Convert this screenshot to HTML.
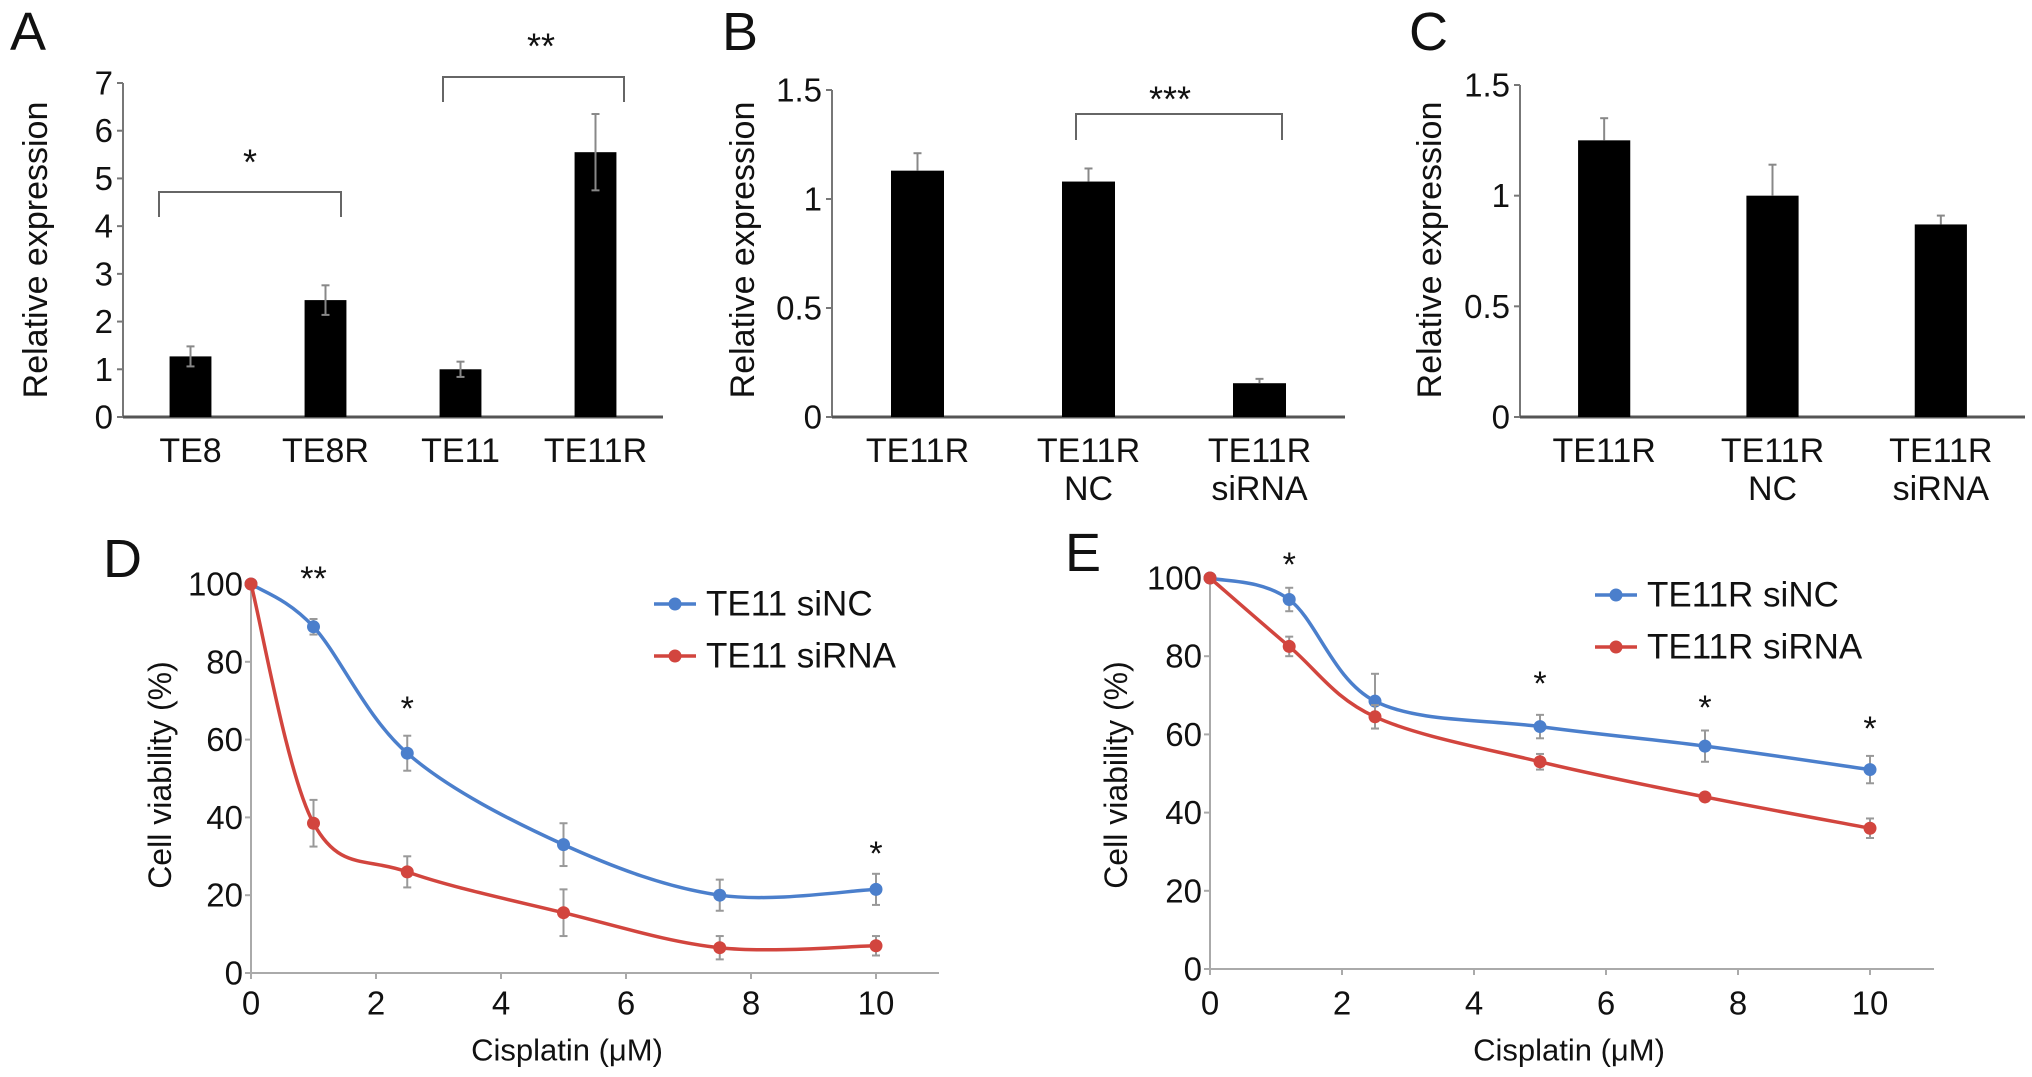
<!DOCTYPE html>
<html><head><meta charset="utf-8"><style>
html,body{margin:0;padding:0;background:#fff;}
svg{display:block;font-family:"Liberation Sans",Arial,sans-serif;}
</style></head><body>
<svg id="fig" width="2032" height="1077" viewBox="0 0 2032 1077" xmlns="http://www.w3.org/2000/svg"></svg>
<script>
// Panel A data
const aCats = ["TE8","TE8R","TE11","TE11R"];
const aVals = [1.27,2.45,1.0,5.55];
const aErrs = [0.21,0.31,0.16,0.8];
const aTicks = [0,1,2,3,4,5,6,7];
// Panel B data
const bCats = [["TE11R"],["TE11R","NC"],["TE11R","siRNA"]];
const bVals = [1.13,1.08,0.155];
const bErrs = [0.08,0.06,0.02];
const bTicks = [0,0.5,1,1.5];
// Panel C data
const cCats = [["TE11R"],["TE11R","NC"],["TE11R","siRNA"]];
const cVals = [1.25,1.0,0.87];
const cErrs = [0.1,0.14,0.04];
const cTicks = [0,0.5,1,1.5];
// Panel D data
const dX = [0,1,2.5,5,7.5,10];
const dNC = [100,89,56.5,33,20,21.5];
const dNCerr = [0,2,4.5,5.5,4,4];
const dSi = [100,38.5,26,15.5,6.5,7];
const dSiErr = [0,6,4,6,3,2.5];
const dStars = [[1,"**",579],[2.5,"*",709],[10,"*",854]];
// Panel E data
const eX = [0,1.2,2.5,5,7.5,10];
const eNC = [100,94.5,68.5,62,57,51];
const eNCerr = [0,3,7,3,4,3.5];
const eSi = [100,82.5,64.5,53,44,36];
const eSiErr = [0,2.5,3,2,1,2.5];
const eStars = [[1.2,"*",565],[5,"*",684],[7.5,"*",708],[10,"*",729]];
const xTicks = [0,2,4,6,8,10];
const yTicksL = [0,20,40,60,80,100];

const svg = document.getElementById('fig');
const NS = "http://www.w3.org/2000/svg";
function el(tag, attrs, parent){
  const e = document.createElementNS(NS, tag);
  for (const k in attrs) e.setAttribute(k, attrs[k]);
  (parent||svg).appendChild(e);
  return e;
}
function txt(s, x, y, size, anchor, parent, name){
  const t = el('text',{x:x,y:y,'font-size':size,'text-anchor':anchor||'middle','dominant-baseline':'central',fill:'#111'},parent);
  t.textContent = s;
  
  
  return t;
}
function panelLetter(s,x,y){
  txt(s,x,y,54,'start',svg,'panel-letter');
}

function barChart(o){
  const g = el('g',{});
  
  
  const ys = v => o.y0 - (v - 0) / o.max * (o.y0 - o.yTop);
  const band = (o.x1 - o.x0) / o.cats.length;
  const bx = i => o.x0 + band * (i + 0.5);
  el('line',{x1:o.x0,y1:o.yTop,x2:o.x0,y2:o.y0,stroke:'#777','stroke-width':2},g);
  el('line',{x1:o.x0,y1:o.y0,x2:o.x1,y2:o.y0,stroke:'#555','stroke-width':3},g);
  o.ticks.forEach(t=>{
    const y = ys(t);
    el('line',{x1:o.x0-6,y1:y,x2:o.x0,y2:y,stroke:'#777','stroke-width':2},g);
    txt(String(t), o.x0-10, y, 33, 'end', g, 'y-tick-label');
  });
  const bw = band*0.31;
  o.vals.forEach((v,i)=>{
    const r = el('rect',{x:bx(i)-bw/2,y:ys(v),width:bw,height:o.y0-ys(v),fill:'#000'},g);
    
    
    const yt = ys(v+o.errs[i]), yb = ys(v-(o.lowErr?o.errs[i]:0));
    el('line',{x1:bx(i),y1:yt,x2:bx(i),y2:o.lowErr?yb:ys(v),stroke:'#888','stroke-width':2},g);
    el('line',{x1:bx(i)-4,y1:yt,x2:bx(i)+4,y2:yt,stroke:'#888','stroke-width':2},g);
    if(o.lowErr) el('line',{x1:bx(i)-4,y1:yb,x2:bx(i)+4,y2:yb,stroke:'#888','stroke-width':2},g);
    const lines = Array.isArray(o.cats[i]) ? o.cats[i] : [o.cats[i]];
    lines.forEach((l,k)=> txt(l, bx(i), 451 + k*38, 34, 'middle', g, 'x-tick-label'));
  });
  const yt = txt('Relative expression', 0, 0, 34, 'middle', g, 'y-axis-title');
  yt.setAttribute('transform','translate('+o.titleX+','+o.titleY+') rotate(-90)');
  return g;
}

function bracket(x1,x2,yTop,yEnd,star,sy,sx){
  const p = el('path',{d:`M${x1},${yEnd} L${x1},${yTop} L${x2},${yTop} L${x2},${yEnd}`,fill:'none',stroke:'#666','stroke-width':2});
  
  
  txt(star, sx, sy, 36, 'middle', svg, 'significance-star');
}

function smoothPath(pts){
  let d = `M${pts[0][0]},${pts[0][1]}`;
  for(let i=0;i<pts.length-1;i++){
    const p0 = pts[i-1]||pts[i], p1=pts[i], p2=pts[i+1], p3=pts[i+2]||p2;
    const c1=[p1[0]+(p2[0]-p0[0])/6, p1[1]+(p2[1]-p0[1])/6];
    const c2=[p2[0]-(p3[0]-p1[0])/6, p2[1]-(p3[1]-p1[1])/6];
    d += ` C${c1[0]},${c1[1]} ${c2[0]},${c2[1]} ${p2[0]},${p2[1]}`;
  }
  return d;
}

function lineChart(o){
  const g = el('g',{});
  
  
  const xs = v => o.x0 + v/10*(o.x10 - o.x0);
  const ys = v => o.y0 - v/100*(o.y0 - o.y100);
  el('line',{x1:o.x0,y1:o.y100-6,x2:o.x0,y2:o.y0,stroke:'#aaa','stroke-width':2},g);
  el('line',{x1:o.x0,y1:o.y0,x2:o.xEnd,y2:o.y0,stroke:'#aaa','stroke-width':2},g);
  yTicksL.forEach(t=>{
    el('line',{x1:o.x0-6,y1:ys(t),x2:o.x0,y2:ys(t),stroke:'#aaa','stroke-width':2},g);
    txt(String(t), o.x0-8, ys(t), 33, 'end', g, 'y-tick-label');
  });
  xTicks.forEach(t=>{
    el('line',{x1:xs(t),y1:o.y0,x2:xs(t),y2:o.y0+6,stroke:'#aaa','stroke-width':2},g);
    txt(String(t), xs(t), 1003, 33, 'middle', g, 'x-tick-label');
  });
  txt('Cisplatin (\u03bcM)', o.titleX, 1050, 31, 'middle', g, 'x-axis-title');
  const yt = txt('Cell viability (%)', 0, 0, 32, 'middle', g, 'y-axis-title');
  yt.setAttribute('transform','translate('+o.yTitleX+',775) rotate(-90)');
  o.series.forEach((s,si)=>{
    const pts = o.xv.map((x,i)=>[xs(x), ys(s.v[i])]);
    const p = el('path',{d:smoothPath(pts),fill:'none',stroke:s.color,'stroke-width':3.5},g);
    
    
    o.xv.forEach((x,i)=>{
      const e = s.e[i];
      if(e>0){
        el('line',{x1:xs(x),y1:ys(s.v[i]+e),x2:xs(x),y2:ys(s.v[i]-e),stroke:'#999','stroke-width':2},g);
        el('line',{x1:xs(x)-4,y1:ys(s.v[i]+e),x2:xs(x)+4,y2:ys(s.v[i]+e),stroke:'#999','stroke-width':2},g);
        el('line',{x1:xs(x)-4,y1:ys(s.v[i]-e),x2:xs(x)+4,y2:ys(s.v[i]-e),stroke:'#999','stroke-width':2},g);
      }
      const c = el('circle',{cx:xs(x),cy:ys(s.v[i]),r:6.5,fill:s.color},g);
      
      
    });
    const ly = o.legY[si];
    const lg = el('g',{},g);
    
    
    el('line',{x1:o.legX,y1:ly,x2:o.legX+42,y2:ly,stroke:s.color,'stroke-width':3.5},lg);
    el('circle',{cx:o.legX+21,cy:ly,r:6.5,fill:s.color},lg);
    txt(s.label, o.legX+52, ly, 35, 'start', lg, 'legend-label');
  });
  o.stars.forEach(s=> txt(s[1], xs(s[0]), s[2], 34, 'middle', g, 'significance-star'));
}

panelLetter('A',10,32);
panelLetter('B',722,32);
panelLetter('C',1409,32);
panelLetter('D',103,559);
panelLetter('E',1065,553);

barChart({name:'panel-a-chart',cats:aCats,vals:aVals,errs:aErrs,ticks:aTicks,max:7,x0:123,x1:663,y0:417,yTop:83,titleX:36,titleY:250,lowErr:true});
bracket(159,341,192,217,'*',162,250);
bracket(443,624,77,102,'**',46,541);
barChart({name:'panel-b-chart',cats:bCats,vals:bVals,errs:bErrs,ticks:bTicks,max:1.5,x0:832,x1:1345,y0:417,yTop:90,titleX:743,titleY:250,lowErr:false});
bracket(1076,1282,114,140,'***',99,1170);
barChart({name:'panel-c-chart',cats:cCats,vals:cVals,errs:cErrs,ticks:cTicks,max:1.5,x0:1520,x1:2025,y0:417,yTop:85,titleX:1430,titleY:250,lowErr:false});

lineChart({name:'panel-d-chart',xv:dX,x0:251,x10:876,xEnd:939,y0:973,y100:584,titleX:567,yTitleX:160,
  legX:654,legY:[604,656],stars:dStars,
  series:[{label:'TE11 siNC',v:dNC,e:dNCerr,color:'#4b7fcc'},{label:'TE11 siRNA',v:dSi,e:dSiErr,color:'#d2453e'}]});
lineChart({name:'panel-e-chart',xv:eX,x0:1210,x10:1870,xEnd:1934,y0:969,y100:578,titleX:1569,yTitleX:1116,
  legX:1595,legY:[595,647],stars:eStars,
  series:[{label:'TE11R siNC',v:eNC,e:eNCerr,color:'#4b7fcc'},{label:'TE11R siRNA',v:eSi,e:eSiErr,color:'#d2453e'}]});
</script>
</body></html>
